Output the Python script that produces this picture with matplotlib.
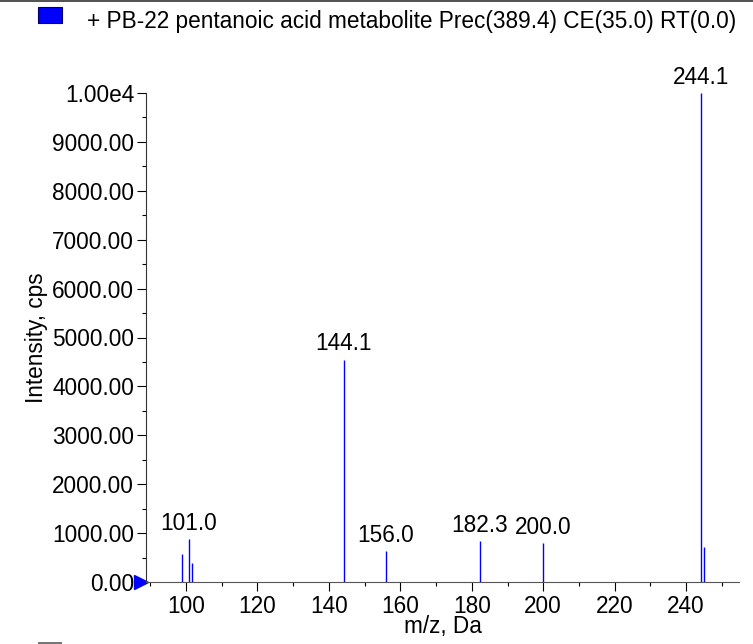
import matplotlib
matplotlib.use('Agg')
import matplotlib.pyplot as plt
import matplotlib.transforms as mtransforms
from matplotlib.ticker import MultipleLocator, FuncFormatter
from matplotlib.patches import Rectangle

# spectrum data
mz = [98.9, 100.8, 101.6, 144.1, 155.9, 182.2, 199.9, 244.1, 245.0]
intensity = [575, 880, 390, 4550, 635, 840, 800, 10000, 725]
peak_labels = ['', '101.0', '', '144.1', '156.0', '182.3', '200.0', '244.1', '']

title = '+ PB-22 pentanoic acid metabolite Prec(389.4) CE(35.0) RT(0.0)'

plt.rcParams['font.family'] = ['Liberation Sans', 'DejaVu Sans']
fs = 16.3

fig = plt.figure(figsize=(7.53, 6.44), dpi=100)
ax = fig.add_axes([146 / 753, 1 - 582 / 644, (739 - 146) / 753, (582 - 93) / 644])

ax.vlines(mz, 0, intensity, color='#0000ff', lw=1.0)
for x, y, lab in zip(mz, intensity, peak_labels):
    if lab:
        ax.annotate(lab, (x, y), xytext=(0, 3), textcoords='offset points',
                    ha='center', va='bottom', fontsize=fs)

ax.set_xlim(88.8, 254.8)
ax.set_ylim(0, 10000)

ax.xaxis.set_major_locator(MultipleLocator(20))
ax.xaxis.set_minor_locator(MultipleLocator(10))
ax.yaxis.set_major_locator(MultipleLocator(1000))
ax.yaxis.set_minor_locator(MultipleLocator(500))


def yfmt(v, pos):
    if v >= 10000:
        return '1.00e4'
    return '%.2f' % v


ax.yaxis.set_major_formatter(FuncFormatter(yfmt))
ax.tick_params(which='major', direction='out', length=6.5, width=0.8,
               labelsize=fs, pad=2)
ax.tick_params(which='minor', direction='out', length=3.2, width=0.8)
ax.tick_params(axis='x', which='major', pad=3)

for s in ['top', 'right']:
    ax.spines[s].set_visible(False)
ax.spines['left'].set_color('#333333')
ax.spines['bottom'].set_color('#555555')

ax.set_xlabel('m/z, Da', fontsize=fs, labelpad=-2)
ax.set_ylabel('Intensity, cps', fontsize=fs, labelpad=3)

# blue marker on the y axis at zero
tr = mtransforms.offset_copy(ax.get_yaxis_transform(), fig=fig, x=-5, y=0, units='dots')
ax.plot([0], [0], marker='>', color='#0000ff', markersize=10, transform=tr, clip_on=False)

# legend box and title text
fig.patches.append(Rectangle((38 / 753, 1 - 23 / 644), 24 / 753, 16 / 644,
                             transform=fig.transFigure, facecolor='#0000ff',
                             edgecolor='#000060', lw=0.8))
fig.text(87 / 753, 1 - 28 / 644, title, fontsize=fs, va='baseline', ha='left')
fig.add_artist(plt.Line2D([0, 1], [1 - 1 / 644, 1 - 1 / 644], color='#333333', lw=1.2,
                          transform=fig.transFigure))
fig.patches.append(Rectangle((38 / 753, 0), 24 / 753, 2 / 644,
                             transform=fig.transFigure, facecolor='#777777', lw=0))

fig.savefig('out.png', dpi=100)
